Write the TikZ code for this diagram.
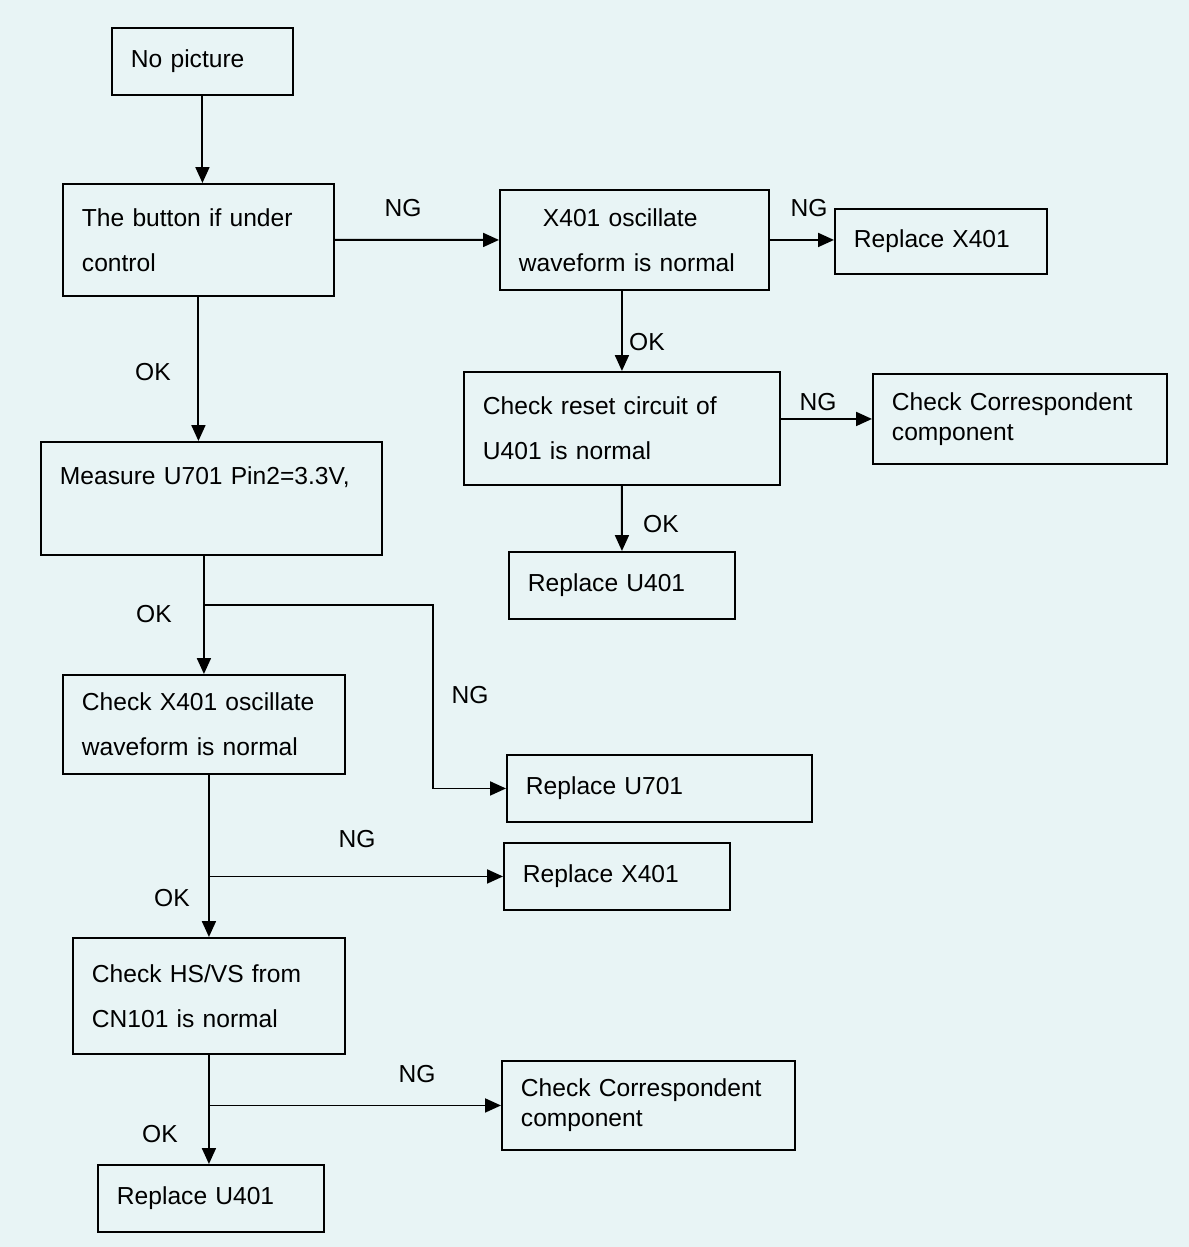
\documentclass[tikz,border=0pt]{standalone}
\usepackage{fontspec}
\setmainfont{Liberation Sans}
\usetikzlibrary{
  arrows.meta,
  positioning,
  calc
}
\usepackage{xcolor}
\definecolor{paleCyan}{RGB}{232,244,245}
\newcommand{\fcBox}[7][]{\node[fcbox, #1, text width=#5cm, minimum height=#6cm] (#2) at (#3,#4) {#7};}
\newcommand{\fcTag}[4]{\node[fclabel] (#1) at (#2,#3) {#4};}
\tikzset{
  fcbox/.style={
    draw,
    anchor=north west,
    align=left,
    inner xsep=0.38cm,
    inner ysep=2pt,
    font=\fontsize{14}{25.6}\selectfont
  },
  fcdense/.style={font=\fontsize{14}{17}\selectfont},
  fclabel/.style={font=\fontsize{14}{17}\selectfont, inner sep=0pt}
}

\begin{document}
\begin{tikzpicture}[
    >={Triangle[length=0.32cm, width=0.28cm]},
    x=0.02cm, y=-0.02cm,
    line width=1.1pt
  ]
  \fill[paleCyan] (0,0) rectangle (1189,1247);
  \useasboundingbox (0,0) rectangle (1189,1247);

  % left column
  \fcBox{nopic}{111}{27}{2.86}{1.34}{No picture}
  \fcBox{button}{62}{183}{4.66}{2.24}{The button if under\\control}
  \fcBox{measure}{40}{441}{6.06}{2.26}{Measure U701 Pin2=3.3V,\\\mbox{}}
  \fcBox{xchk}{62}{674}{4.88}{1.98}{Check X401 oscillate\\waveform is normal}
  \fcBox{hsvs}{72}{937}{4.68}{2.32}{Check HS/VS from\\CN101 is normal}
  \fcBox{repub}{97}{1164}{3.76}{1.34}{Replace U401}

  % right column
  \fcBox{xosc}{499}{189}{4.62}{2.00}{\hspace*{0.48cm}X401 oscillate\\waveform is normal}
  \fcBox{repxa}{834}{208}{3.48}{1.30}{Replace X401}
  \fcBox{reset}{463}{371}{5.56}{2.26}{Check reset circuit of\\U401 is normal}
  \fcBox[fcdense]{corra}{872}{373}{5.12}{1.80}{Check Correspondent\\component}
  \fcBox{repua}{508}{551}{3.76}{1.34}{Replace U401}
  \fcBox{repu7}{506}{754}{5.34}{1.34}{Replace U701}
  \fcBox{repxb}{503}{842}{3.76}{1.34}{Replace X401}
  \fcBox[fcdense]{corrb}{501}{1060}{5.10}{1.78}{Check Correspondent\\component}

  \coordinate (br1) at (203,605);
  \coordinate (bend1) at (433,605);
  \coordinate (br2) at (hsvs.north |- repxb.west);
  \coordinate (br3) at (hsvs.south |- corrb.west);

  \path[->]
  (nopic.south)    edge (nopic.south |- button.north)
  (button.east)    edge (xosc.west)
  (xosc.east)      edge (xosc.east -| repxa.west)
  (reset.north |- xosc.south) edge (reset.north)
  (corra.west -| reset.east)  edge (corra.west)
  (reset.south)    edge (repua.north)
  (button.south)   edge (button.south |- measure.north)
  (xchk.north |- measure.south) edge (xchk.north)
  (hsvs.north |- xchk.south)    edge (hsvs.north)
  (br2)            edge (repxb.west)
  (hsvs.south)     edge (hsvs.south |- repub.north)
  (br3)            edge (corrb.west)
  ;
  \draw[->] (br1) -- (bend1) |- (repu7.west);

  \fcTag{ng1}{403}{208}{NG}
  \fcTag{ng2}{809}{208}{NG}
  \fcTag{ok1}{647}{342}{OK}
  \fcTag{ng3}{818}{402}{NG}
  \fcTag{ok2}{661}{524}{OK}
  \fcTag{ok3}{153}{372}{OK}
  \fcTag{ok4}{154}{614}{OK}
  \fcTag{ng4}{470}{695}{NG}
  \fcTag{ng5}{357}{839}{NG}
  \fcTag{ok5}{172}{898}{OK}
  \fcTag{ng6}{417}{1074}{NG}
  \fcTag{ok6}{160}{1134}{OK}
\end{tikzpicture}
\end{document}
